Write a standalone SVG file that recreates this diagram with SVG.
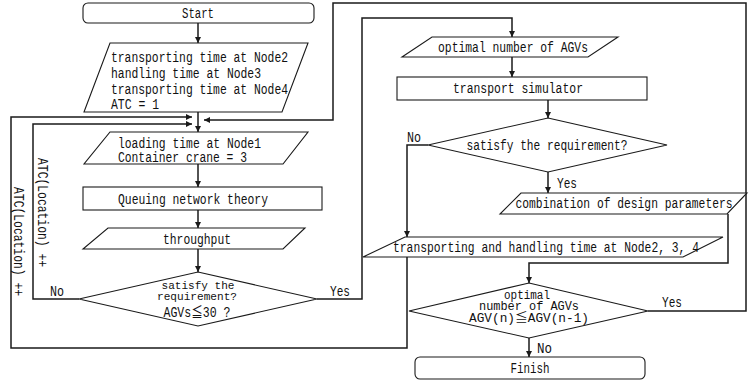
<svg xmlns="http://www.w3.org/2000/svg" width="749" height="383" viewBox="0 0 749 383">
<defs>
<marker id="ah" viewBox="0 0 10 10" refX="10" refY="5" markerWidth="6" markerHeight="7" markerUnits="userSpaceOnUse" orient="auto">
<path d="M0,0 L10,5 L0,10 z" fill="#1a1a1a"/>
</marker>
<style>
.s{fill:#fff;stroke:#1a1a1a;stroke-width:1.1}
.c{fill:none;stroke:#1a1a1a;stroke-width:1.5}
.a{marker-end:url(#ah)}
text{font-family:"Liberation Mono","Noto Sans CJK JP",monospace;font-size:14px;fill:#111}
.m{text-anchor:middle}
.d{font-size:12px}
</style>
</defs>
<rect width="749" height="383" fill="#fff"/>
<g id="connectors">
<path class="c a" d="M198,23 V43"/>
<path class="c a" d="M198,112 V132"/>
<path class="c a" d="M407,257 V348 H11 V117 H192"/>
<path class="c a" d="M79,299 H33 V124 H192"/>
<path class="c a" d="M648,311 H746 V3 H333 V120 H204"/>
<path class="c a" d="M198,164 V187"/>
<path class="c a" d="M198,210 V228"/>
<path class="c a" d="M198,249 V272"/>
<path class="c a" d="M317,299 H362 V18 H512 V37"/>
<path class="c a" d="M512,57 V77"/>
<path class="c a" d="M548,100 V118"/>
<path class="c a" d="M548,172 V193"/>
<path class="c a" d="M428,145 H407 V237"/>
<path class="c a" d="M728,214 V263 H529 V283"/>
<path class="c a" d="M529,338 V357"/>
<text x="50" y="296" textLength="14" lengthAdjust="spacingAndGlyphs">No</text>
<text x="330" y="296" textLength="20" lengthAdjust="spacingAndGlyphs">Yes</text>
<text x="407" y="142" textLength="14" lengthAdjust="spacingAndGlyphs">No</text>
<text x="557" y="188" textLength="20" lengthAdjust="spacingAndGlyphs">Yes</text>
<text x="662" y="307" textLength="20" lengthAdjust="spacingAndGlyphs">Yes</text>
<text x="537" y="353" textLength="15" lengthAdjust="spacingAndGlyphs">No</text>
<text transform="translate(42,158) rotate(90)" dominant-baseline="central" textLength="109" lengthAdjust="spacingAndGlyphs">ATC(Location) ++</text>
<text transform="translate(18,187) rotate(90)" dominant-baseline="central" textLength="109" lengthAdjust="spacingAndGlyphs">ATC(Location) ++</text>
</g>
<g id="start">
<rect class="s" x="83" y="3" width="231" height="20" rx="5"/>
<text class="m" x="198" y="18" textLength="32" lengthAdjust="spacingAndGlyphs">Start</text>
</g>
<g id="input1">
<path class="s" d="M110,43 H308 L282,112 H84 Z"/>
<text x="111" y="62" textLength="177" lengthAdjust="spacingAndGlyphs">transporting time at Node2</text>
<text x="111" y="78" textLength="150" lengthAdjust="spacingAndGlyphs">handling time at Node3</text>
<text x="111" y="94" textLength="177" lengthAdjust="spacingAndGlyphs">transporting time at Node4</text>
<text x="111" y="109" textLength="48" lengthAdjust="spacingAndGlyphs">ATC = 1</text>
</g>
<g id="loading">
<path class="s" d="M110,132 H308 L283,164 H84 Z"/>
<text x="118" y="148" textLength="143" lengthAdjust="spacingAndGlyphs">loading time at Node1</text>
<text x="118" y="162" textLength="129" lengthAdjust="spacingAndGlyphs">Container crane = 3</text>
</g>
<g id="queuing">
<rect class="s" x="83" y="187" width="239" height="23"/>
<text class="m" x="193" y="204" textLength="150" lengthAdjust="spacingAndGlyphs">Queuing network theory</text>
</g>
<g id="throughput">
<path class="s" d="M108,228 H305 L283,249 H83 Z"/>
<text class="m" x="197" y="244" textLength="68" lengthAdjust="spacingAndGlyphs">throughput</text>
</g>
<g id="decision1">
<path class="s" d="M198,272 L317,299 L198,326 L79,299 Z"/>
<text class="m" x="198" y="289" textLength="73" lengthAdjust="spacingAndGlyphs" style="font-size:11.5px">satisfy the</text>
<text class="m" x="197" y="300" textLength="80" lengthAdjust="spacingAndGlyphs" style="font-size:11.5px">requirement?</text>
<text class="m" x="197" y="317" textLength="67" lengthAdjust="spacingAndGlyphs">AGVs≦30 ?</text>
</g>
<g id="optimal">
<path class="s" d="M432,37 H618 L588,57 H402 Z"/>
<text class="m" x="513" y="52" textLength="150" lengthAdjust="spacingAndGlyphs">optimal number of AGVs</text>
</g>
<g id="simulator">
<rect class="s" x="397" y="77" width="250" height="23"/>
<text class="m" x="518" y="93" textLength="130" lengthAdjust="spacingAndGlyphs">transport simulator</text>
</g>
<g id="decision2">
<path class="s" d="M548,118 L667,145 L548,172 L428,145 Z"/>
<text class="m" x="547" y="150" textLength="161" lengthAdjust="spacingAndGlyphs">satisfy the requirement?</text>
</g>
<g id="combination">
<path class="s" d="M521,193 H747 L727,214 H500 Z"/>
<text class="m" x="624" y="208" textLength="217" lengthAdjust="spacingAndGlyphs">combination of design parameters</text>
</g>
<g id="transhandling">
<path class="s" d="M405,237 H723 L683,257 H363 Z"/>
<text class="m" x="546" y="252" textLength="306" lengthAdjust="spacingAndGlyphs">transporting and handling time at Node2, 3, 4</text>
</g>
<g id="decision3">
<path class="s" d="M529,283 L648,311 L529,338 L409,311 Z"/>
<text class="m d" x="527" y="299" textLength="46" lengthAdjust="spacingAndGlyphs">optimal</text>
<text class="m d" x="529" y="310" textLength="100" lengthAdjust="spacingAndGlyphs">number of AGVs</text>
<text class="m d" x="529" y="322" textLength="120" lengthAdjust="spacingAndGlyphs">AGV(n)≦AGV(n-1)</text>
</g>
<g id="finish">
<rect class="s" x="415" y="357" width="230" height="22" rx="5"/>
<text class="m" x="530" y="373" textLength="39" lengthAdjust="spacingAndGlyphs">Finish</text>
</g>
</svg>
